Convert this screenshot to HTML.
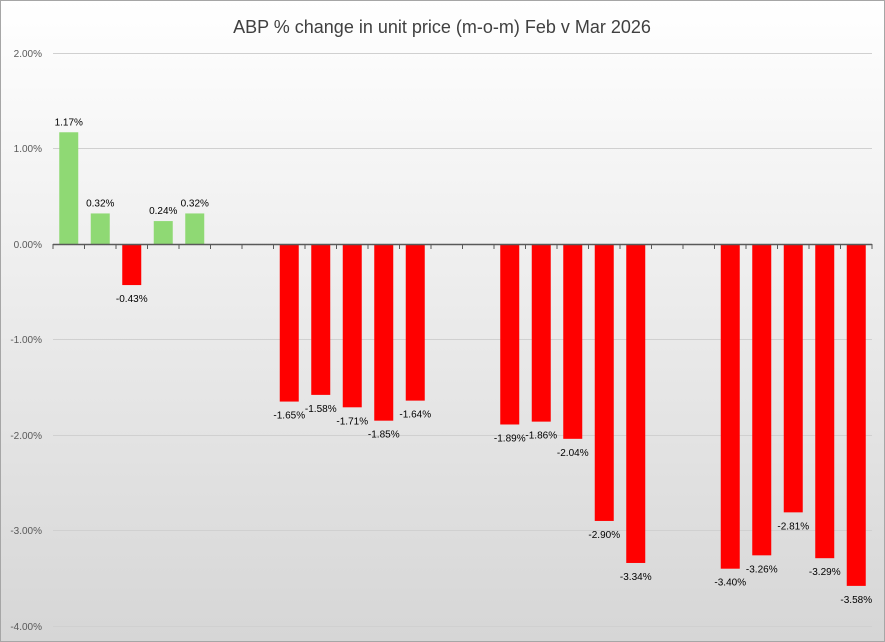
<!DOCTYPE html>
<html><head><meta charset="utf-8"><style>
html,body{margin:0;padding:0;width:885px;height:642px;overflow:hidden}
svg{display:block;font-family:"Liberation Sans",Arial,sans-serif}
</style></head><body>
<svg width="885" height="642" viewBox="0 0 885 642">
<defs><linearGradient id="bg" x1="0" y1="0" x2="0" y2="1">
<stop offset="0" stop-color="#ffffff"/><stop offset="1" stop-color="#d6d6d6"/></linearGradient></defs>
<rect x="0.5" y="0.5" width="884" height="641" fill="url(#bg)" stroke="#a6a6a6"/>
<text x="442" y="33" text-anchor="middle" font-size="18" fill="#404040">ABP % change in unit price (m-o-m) Feb v Mar 2026</text>
<g stroke="#d0d0d0" stroke-width="1">
<line x1="53" x2="872" y1="53.5" y2="53.5"/><line x1="53" x2="872" y1="148.5" y2="148.5"/>
<line x1="53" x2="872" y1="339.5" y2="339.5"/><line x1="53" x2="872" y1="435.5" y2="435.5"/>
<line x1="53" x2="872" y1="530.5" y2="530.5"/><line x1="53" x2="872" y1="626.5" y2="626.5"/>
</g>
<g font-size="10" fill="#595959" text-anchor="end">
<text x="42" y="57">2.00%</text><text x="42" y="152">1.00%</text><text x="42" y="248">0.00%</text>
<text x="42" y="343">-1.00%</text><text x="42" y="439">-2.00%</text><text x="42" y="534">-3.00%</text><text x="42" y="630">-4.00%</text>
</g>
<g id="bars"></g>
<line x1="53" x2="872" y1="244.5" y2="244.5" stroke="#595959" stroke-width="1.5"/>
<g id="ticks" stroke="#595959"></g>
<g id="labels" font-size="10" fill="#000" text-anchor="middle"></g>
<script>
var vals=[[0,1.17],[1,0.32],[2,-0.43],[3,0.24],[4,0.32],[7,-1.65],[8,-1.58],[9,-1.71],[10,-1.85],[11,-1.64],
[14,-1.89],[15,-1.86],[16,-2.04],[17,-2.90],[18,-3.34],[21,-3.40],[22,-3.26],[23,-2.81],[24,-3.29],[25,-3.58]];
var ns="http://www.w3.org/2000/svg",b=document.getElementById('bars'),l=document.getElementById('labels'),t=document.getElementById('ticks');
var sw=31.5,x0=53;
for(var i=0;i<=26;i++){var ln=document.createElementNS(ns,'line');ln.setAttribute('x1',x0+i*sw);ln.setAttribute('x2',x0+i*sw);ln.setAttribute('y1',244);ln.setAttribute('y2',249);t.appendChild(ln);}
vals.forEach(function(v){var c=x0+v[0]*sw+sw/2,y=244-v[1]*95.5;var r=document.createElementNS(ns,'rect');
r.setAttribute('x',c-9.5);r.setAttribute('width',19);r.setAttribute('y',Math.min(y,244));r.setAttribute('height',Math.abs(y-244));
r.setAttribute('fill',v[1]>0?'#8fd974':'#ff0000');b.appendChild(r);
var tx=document.createElementNS(ns,'text');tx.setAttribute('x',c);tx.setAttribute('y',v[1]>0?y-7:y+17);
tx.textContent=v[1].toFixed(2)+'%';l.appendChild(tx);});
</script>
</svg>
</body></html>
